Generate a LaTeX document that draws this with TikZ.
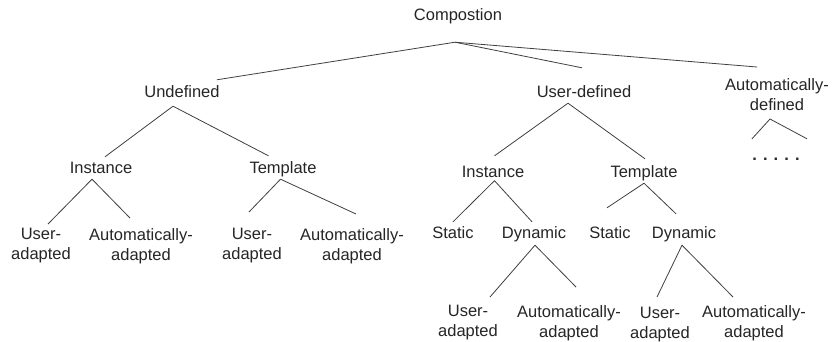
\documentclass[tikz,border=0pt]{standalone}
\usepackage{fontspec}
\setmainfont{Liberation Sans}
\usepackage{tikz}
\usetikzlibrary{calc}
\definecolor{treegray}{rgb}{0.25, 0.25, 0.25}

\begin{document}
\begin{tikzpicture}[x=1pt, y=-1pt,
	every node/.style={inner sep=0pt, text=black!85, font=\fontsize{16.5}{20}\selectfont},
	leaf/.style={text height=12pt, text depth=3.5pt, anchor=base},
	twoline/.style={align=center, anchor=north},
	branch/.style={draw=treegray, line width=0.8pt}]
	\fill[white] (0,0) rectangle (833,341);
	\useasboundingbox (0,0) rectangle (833,341);
	%% top levels
	\node[leaf] (comp) at (458,20) {Compostion};
	\node[leaf] (undef) at (182,97) {Undefined};
	\node[leaf] (userdef) at (584,97) {User-defined};
	\node[twoline] (autodef) at (777,78) {Automatically-\\defined};
	\node[leaf, font=\bfseries\fontsize{16.5}{20}\selectfont] (dots) at (776,160) {. . . . .};
	
	\node[leaf] (inst-u) at (101,173) {Instance};
	\node[leaf] (tmpl-u) at (283,173) {Template};
	\node[leaf] (inst-d) at (493,177) {Instance};
	\node[leaf] (tmpl-d) at (644,177) {Template};
	
	\node[twoline] (user-iu) at (41,228) {User-\\adapted};
	\node[twoline] (auto-iu) at (141,228) {Automatically-\\adapted};
	\node[twoline] (user-tu) at (252,228) {User-\\adapted};
	\node[twoline] (auto-tu) at (352,228) {Automatically-\\adapted};
	\node[leaf] (stat-id) at (453,238) {Static};
	\node[leaf] (dyn-id) at (534,238) {Dynamic};
	\node[leaf] (stat-td) at (610,238) {Static};
	\node[leaf] (dyn-td) at (684,238) {Dynamic};
	
	\node[twoline] (user-id) at (468,305) {User-\\adapted};
	\node[twoline] (auto-id) at (569,305) {Automatically-\\adapted};
	\node[twoline] (user-td) at (660,307) {User-\\adapted};
	\node[twoline] (auto-td) at (754,305) {Automatically-\\adapted};
	
	%% forks under the parents
	\coordinate (comp-fork) at ([xshift=-3pt,yshift=-18.5pt]comp.south);
	\coordinate (undef-fork) at ([xshift=-9pt,yshift=-5.5pt]undef.south);
	\coordinate (userdef-fork) at ([xshift=-16pt,yshift=-2.5pt]userdef.south);
	\coordinate (autodef-fork) at ([xshift=-7pt,yshift=-41pt]autodef.north);
	\coordinate (inst-u-fork) at ([xshift=-9pt,yshift=-2.5pt]inst-u.south);
	\coordinate (tmpl-u-fork) at ([xshift=-2.5pt,yshift=-2.5pt]tmpl-u.south);
	\coordinate (inst-d-fork) at ([xshift=1.5pt]inst-d.south);
	\coordinate (tmpl-d-fork) at ([yshift=-2.5pt]tmpl-d.south);
	\coordinate (dyn-id-fork) at ([xshift=1pt,yshift=-3.5pt]dyn-id.south);
	\coordinate (dyn-td-fork) at ([xshift=-2pt,yshift=-3.5pt]dyn-td.south);
	
	\draw[branch] (comp-fork) -- ([xshift=-3pt,yshift=5pt]undef.north east);
	\draw[branch] (comp-fork) -- ([xshift=-2pt,yshift=17pt]userdef.north);
	\draw[branch] (comp-fork) -- ([xshift=-20pt,yshift=11pt]autodef.north);
	\draw[branch] (undef-fork) -- ([xshift=4pt,yshift=4pt]inst-u.north);
	\draw[branch] (undef-fork) -- ([xshift=-14.5pt,yshift=5pt]tmpl-u.north);
	\draw[branch] (inst-u-fork) -- ([xshift=7pt,yshift=4pt]user-iu.north);
	\draw[branch] (inst-u-fork) -- ([xshift=-11pt,yshift=10pt]auto-iu.north);
	\draw[branch] (tmpl-u-fork) -- ([xshift=-3pt,yshift=16pt]user-tu.north);
	\draw[branch] (tmpl-u-fork) -- ([xshift=4pt,yshift=14pt]auto-tu.north);
	\draw[branch] (userdef-fork) -- ([xshift=1.5pt,yshift=9pt]inst-d.north);
	\draw[branch] (userdef-fork) -- ([xshift=1pt,yshift=6pt]tmpl-d.north);
	\draw[branch] (inst-d-fork) -- ([yshift=4pt]stat-id.north);
	\draw[branch] (inst-d-fork) -- ([xshift=-2pt,yshift=4pt]dyn-id.north);
	\draw[branch] (tmpl-d-fork) -- ([xshift=-3pt,yshift=18pt]stat-td.north);
	\draw[branch] (tmpl-d-fork) -- ([xshift=-8pt,yshift=12pt]dyn-td.north);
	\draw[branch] (dyn-id-fork) -- ([xshift=22pt,yshift=8pt]user-id.north);
	\draw[branch] (dyn-id-fork) -- ([xshift=7pt,yshift=18pt]auto-id.north);
	\draw[branch] (dyn-td-fork) -- ([xshift=-3pt,yshift=10pt]user-td.north);
	\draw[branch] (dyn-td-fork) -- ([xshift=-21pt,yshift=8pt]auto-td.north);
	\draw[branch] (autodef-fork) -- ([xshift=-24pt,yshift=9pt]dots.north);
	\draw[branch] (autodef-fork) -- ([xshift=31pt,yshift=9pt]dots.north);
\end{tikzpicture}
\end{document}
